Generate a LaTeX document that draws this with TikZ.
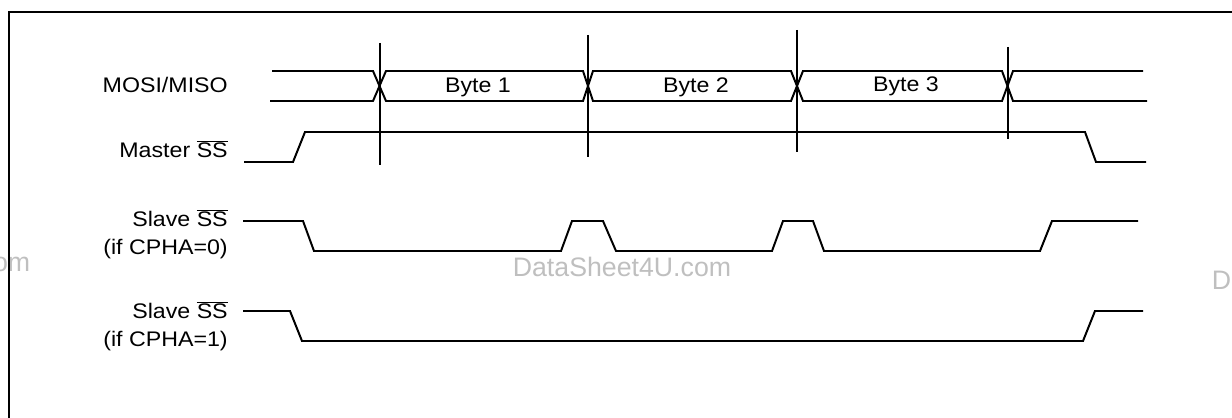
\documentclass[tikz,border=0pt]{standalone}
\usepackage{fontspec}
\setmainfont{Liberation Sans}[FakeStretch=1.1]
\newfontfamily\markfont{Liberation Sans}

\tikzset{
  sig/.style={line width=1.4pt, line join=miter},
  lbl/.style={anchor=base east, inner sep=0pt, font=\fontsize{15}{18}\selectfont},
  bytelbl/.style={anchor=base, inner sep=0pt, font=\fontsize{15}{18}\selectfont},
  wmark/.style={anchor=base, inner sep=0pt, text=black!25, font=\markfont\fontsize{19}{22}\selectfont}
}
\newcommand{\nss}{$\overline{\mbox{SS}}$}

\begin{document}
\begin{tikzpicture}[x=0.025cm, y=-0.025cm]
  \useasboundingbox (0,0) rectangle (1232,418);
  \clip (0,0) rectangle (1232,418);

  % watermarks
  \node[wmark] (wm1) at (-79,272) {DataSheet4U.com};
  \node[wmark] (wm2) at (622,277) {DataSheet4U.com};
  \node[wmark] (wm3) at (1321,290) {DataSheet4U.com};

  % frame
  \draw[sig, line width=1.6pt] (9,418) -- (9,12) -- (1240,12);

  % labels
  \node[lbl] (mosi) at (228,93) {MOSI/MISO};
  \node[lbl] (mss) at (228,158) {Master \nss};
  \node[lbl] (ssa) at (228,227) {Slave \nss};
  \node[lbl] (ssa-note) at (228,255) {(if CPHA=0)};
  \node[lbl] (ssb) at (228,319) {Slave \nss};
  \node[lbl] (ssb-note) at (228,347) {(if CPHA=1)};

  \node[bytelbl] (b1) at (478,93) {Byte 1};
  \node[bytelbl] (b2) at (696,93) {Byte 2};
  \node[bytelbl] (b3) at (906,92) {Byte 3};

  % data bus
  \draw[sig] (272,71) -- (373,71) -- (386,101) -- (583,101) -- (593,71)
    -- (791,71) -- (803,101) -- (1002,101) -- (1013,71) -- (1143,71);
  \draw[sig] (270,101) -- (373,101) -- (386,71) -- (583,71) -- (593,101)
    -- (791,101) -- (803,71) -- (1002,71) -- (1013,101) -- (1147,101);

  % sampling marks
  \draw[sig] (380,43) -- (380,165);
  \draw[sig] (588,35) -- (588,157);
  \draw[sig] (797,30) -- (797,152);
  \draw[sig] (1008,47) -- (1008,139);

  % master SS
  \draw[sig] (244,162) -- (293,162) -- (305,132) -- (1085,132)
    -- (1096,162) -- (1146,162);

  % slave SS, CPHA=0
  \draw[sig] (243,221) -- (303,221) -- (314,251) -- (561,251) -- (572,221)
    -- (603,221) -- (616,251) -- (772,251) -- (783,221) -- (813,221)
    -- (824,251) -- (1040,251) -- (1052,221) -- (1138,221);

  % slave SS, CPHA=1
  \draw[sig] (243,311) -- (290,311) -- (302,341) -- (1083,341)
    -- (1095,311) -- (1143,311);
\end{tikzpicture}
\end{document}
